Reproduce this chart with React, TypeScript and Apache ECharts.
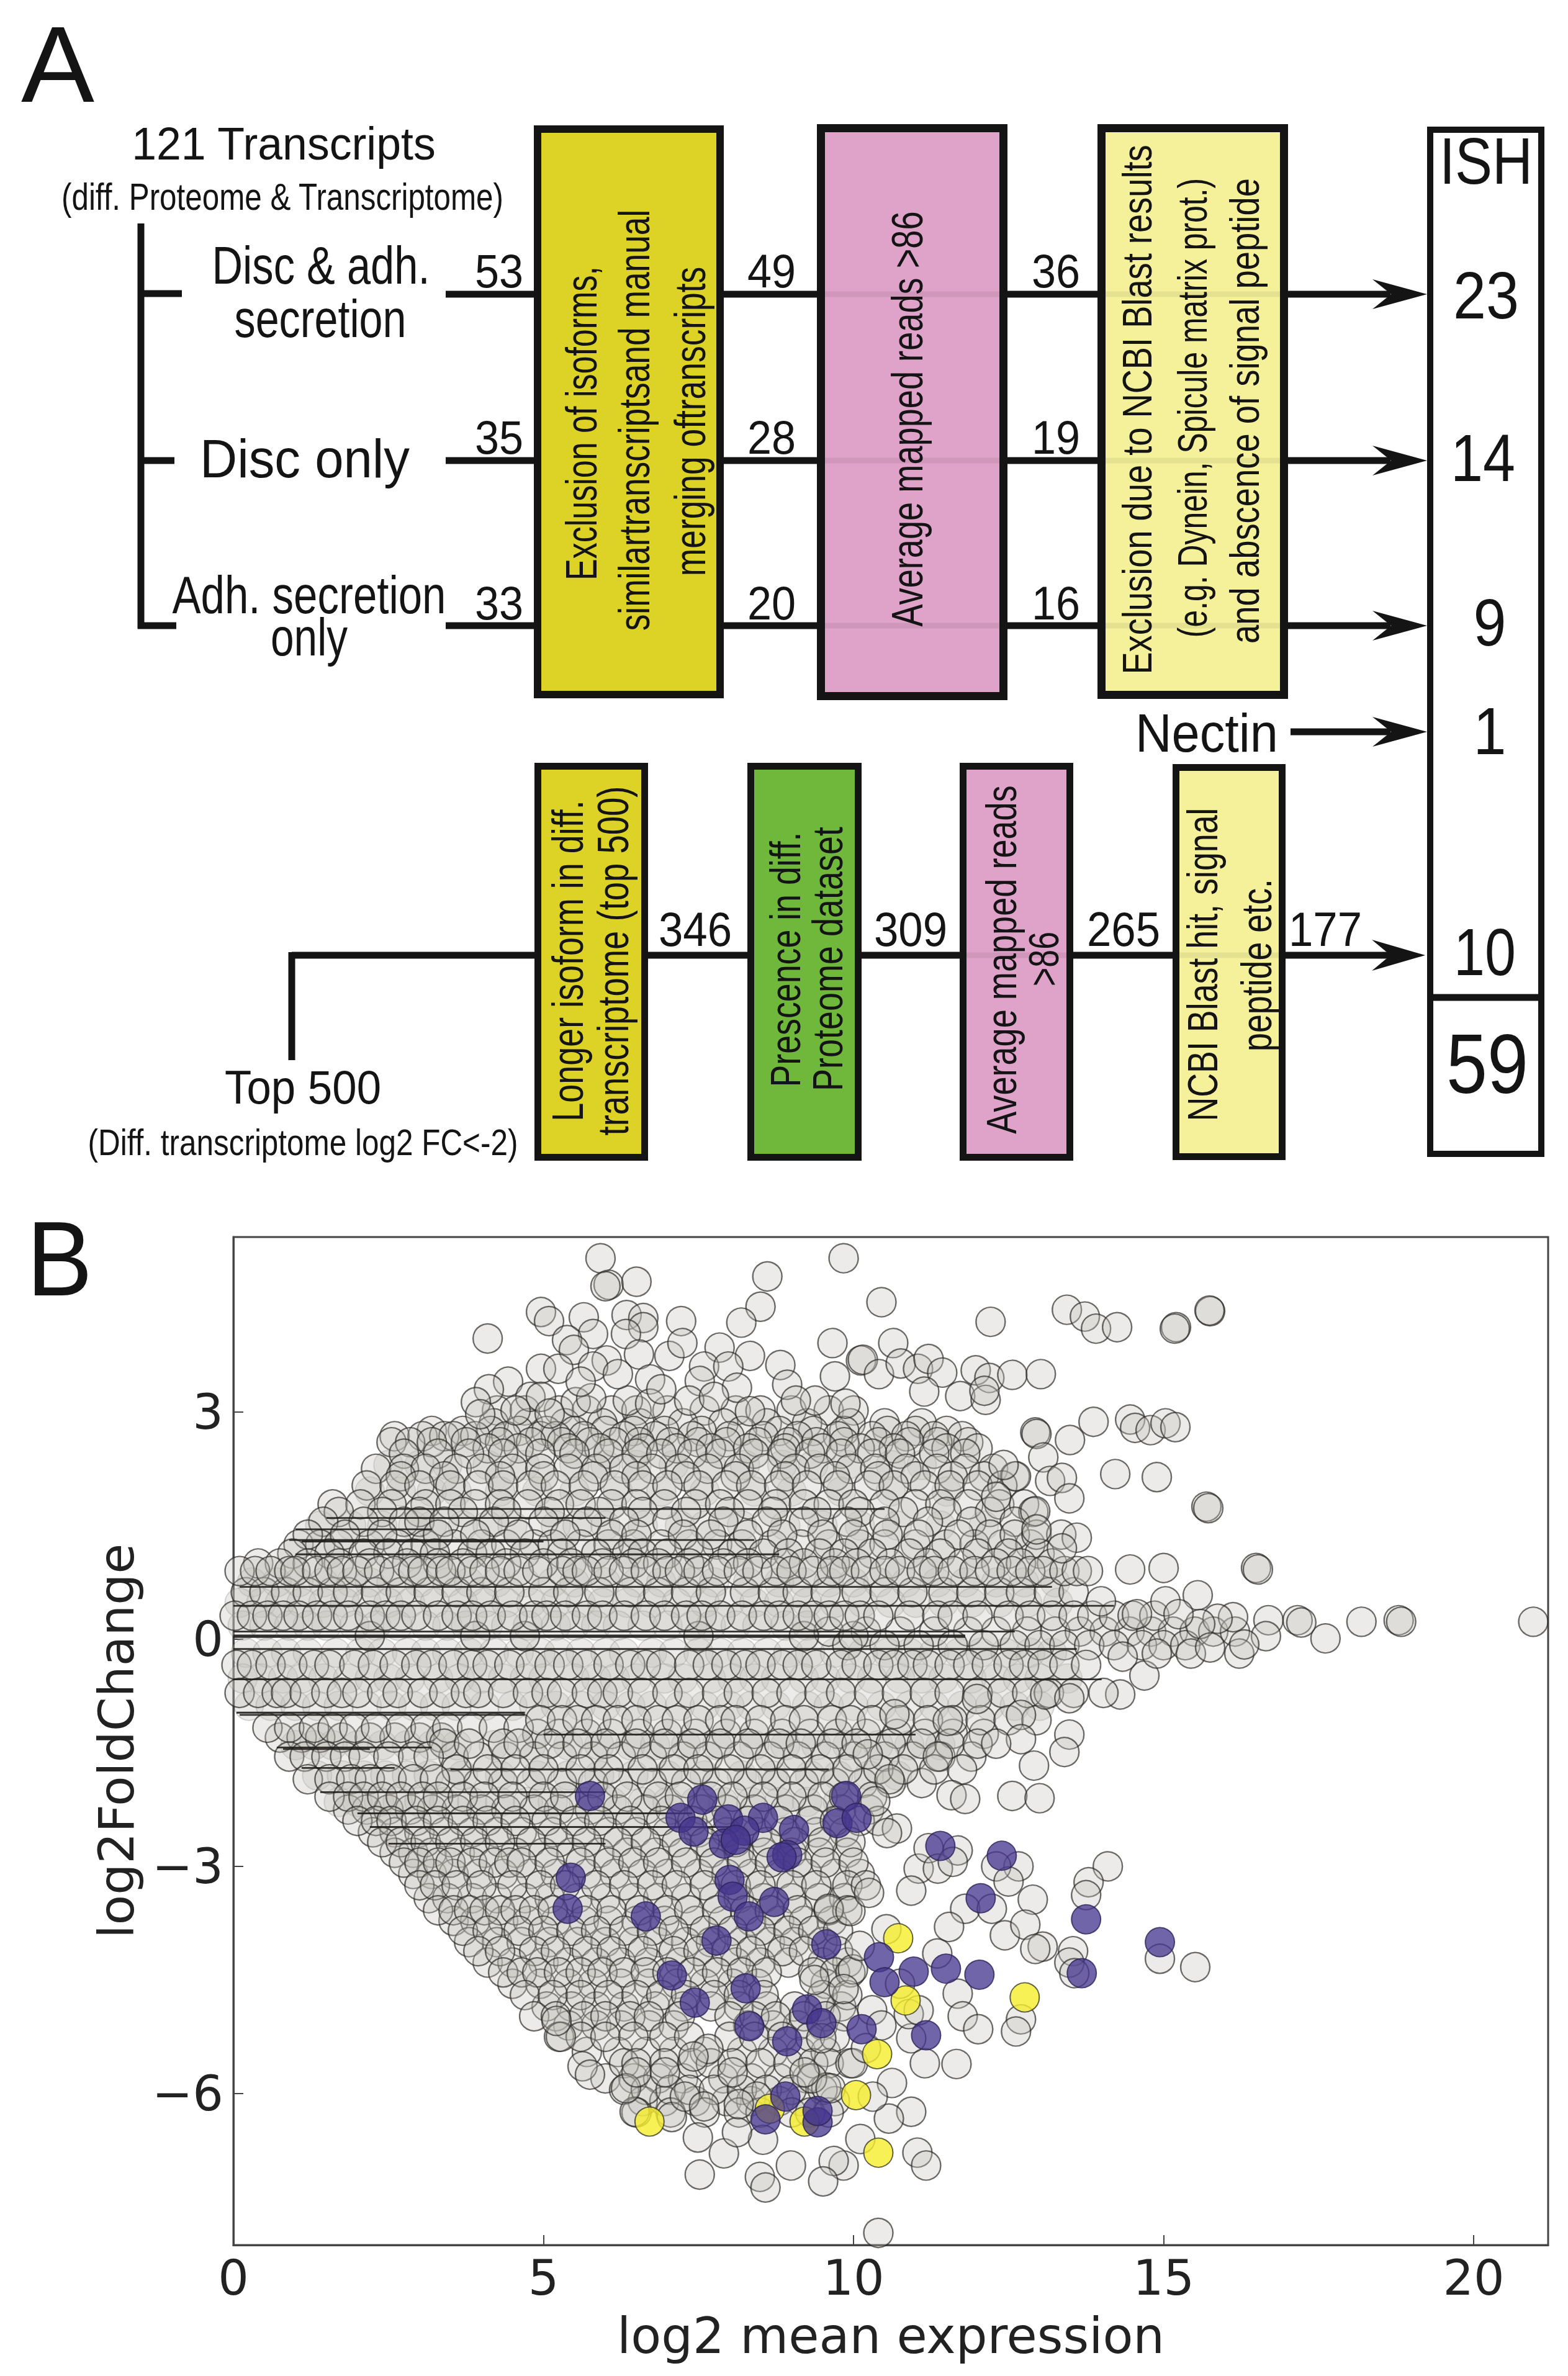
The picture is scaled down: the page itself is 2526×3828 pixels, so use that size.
import React, { useEffect, useRef } from "react";
import * as echarts from "echarts";

// ---------- panel B data (log2 mean expression, log2 fold change) ----------
const xTicks = [0, 5, 10, 15, 20];
const yTicks = [-6, -3, 0, 3];

// Transcripts buried under the visible rows, seen only as faint arcs: [fold change, mean expressions]
const grayBuriedRows: [number, number[]][] = [
  [2.3, [2.5, 3.0, 3.45, 4.1, 4.7, 5.5, 6.0, 6.5, 7.1, 7.7, 8.25, 8.85, 9.35, 9.9, 10.6, 11.1]],
  [1.95, [2.2, 2.7, 3.2, 3.6, 4.3, 4.9, 5.5, 6.2, 6.9, 7.6, 8.4, 9.0, 9.8, 10.6, 11.5]],
  [1.5, [1.4, 1.9, 2.4, 2.9, 3.2, 3.7, 4.1, 4.5, 5.2, 5.55, 6.0, 6.6, 7.2, 7.6, 8.2, 8.9, 9.5, 10.1, 10.7, 11.4, 12.1]],
  [0.75, [0.3, 0.7, 1.05, 1.45, 1.9, 2.2, 2.55, 3.0, 3.45, 3.8, 4.25, 4.7, 5.15, 5.5, 6.0, 6.5, 6.9, 7.4, 7.75, 8.3, 8.8, 9.2, 9.6, 10.0, 10.4, 10.85, 11.35, 11.8, 12.3, 12.75, 13.25]],
  [0.48, [0.1, 0.45, 0.75, 1.1, 1.45, 1.8, 2.15, 2.5, 2.85, 3.25, 3.7, 4.05, 4.4, 4.8, 5.2, 5.6, 5.95, 6.35, 6.75, 7.15, 7.6, 8.0, 8.4, 8.8, 9.25, 9.7, 10.15, 10.6, 11.0, 11.45, 11.9, 12.35, 12.8, 13.3]],
  [0.18, [0.15, 0.5, 0.9, 1.2, 1.5, 1.95, 2.3, 2.65, 3.1, 3.45, 3.75, 4.1, 4.4, 4.75, 5.2, 5.5, 5.85, 6.2, 6.6, 7.0, 7.4, 7.7, 8.1, 8.45, 8.9, 9.25]],
  [-0.18, [0.2, 0.55, 0.85, 1.2, 1.65, 2.05, 2.4, 2.8, 3.1, 3.45, 3.8, 4.2, 4.6, 4.95, 5.25, 5.6, 6.0, 6.3, 6.75, 7.1, 7.5, 7.85, 8.2, 8.6, 8.95, 9.3, 9.7, 10.15, 10.55, 10.9, 11.3, 11.7, 12.05, 12.45, 12.85, 13.2]],
  [-0.52, [0.15, 0.45, 0.8, 1.1, 1.45, 1.85, 2.2, 2.5, 2.85, 3.3, 3.65, 4.0, 4.35, 4.7, 5.0, 5.5, 5.85, 6.15, 6.5, 6.95, 7.25, 7.7, 8.05, 8.4, 8.75, 9.2, 9.55, 9.95, 10.3, 10.75, 11.1, 11.45, 11.9, 12.3, 12.65, 13.0, 13.45]],
  [-0.88, [0.25, 0.6, 1.0, 1.35, 1.7, 2.15, 2.55, 2.9, 3.25, 3.6, 4.05, 4.5, 4.85, 5.2, 5.6, 6.0, 6.4, 6.75, 7.2, 7.6, 8.0, 8.35, 8.75, 9.25, 9.6, 10.0, 10.45, 10.9, 11.3, 11.75, 12.2, 12.6, 13.0]],
  [-1.4, [1.0, 1.3, 1.6, 2.0, 2.4, 2.8, 3.2, 3.6, 4.2, 4.8, 5.4, 5.9, 6.4, 6.8, 7.3, 7.8, 8.4, 8.9, 9.4, 9.9, 10.4, 10.9, 11.4]],
  [-1.8, [1.35, 1.75, 2.1, 2.45, 2.8, 3.15, 3.7, 4.3, 4.9, 5.4, 5.9, 6.45, 7.0, 7.6, 8.2, 8.7, 9.3, 9.75, 10.25, 10.7]],
  [-2.15, [1.7, 2.0, 2.35, 2.65, 3.0, 3.4, 3.85, 4.3, 4.75, 5.15, 5.65, 6.1, 6.6, 7.0, 7.45, 7.9, 8.35, 8.8, 9.25, 9.75]],
];

// Gray transcripts that sit on the discrete fold-change bands: [fold change, mean expressions]
const grayRows: [number, number[]][] = [
  [3.02, [4.25, 4.7, 5.25, 5.7, 6.1, 6.5, 7.0, 7.6, 8.1, 8.5, 9.0, 9.6, 10.0]],
  [2.85, [4.2, 4.75, 5.35, 5.95, 6.55, 7.25, 7.9, 8.6, 9.25, 9.95, 10.5, 11.1]],
  [2.75, [3.2, 3.7, 4.15, 4.6, 5.05, 5.5, 6.0, 6.45, 6.95, 7.55, 8.2, 8.8, 9.35, 9.85, 10.55, 11.0, 11.5]],
  [2.68, [2.6, 3.05, 3.4, 3.55, 3.9, 4.4, 4.95, 5.2, 5.65, 6.3, 6.8, 7.4, 8.0, 8.55, 9.1, 9.75, 10.3, 10.85, 11.3, 11.75]],
  [2.6, [2.55, 2.85, 3.2, 3.75, 4.3, 4.8, 5.3, 5.75, 6.15, 6.55, 7.05, 7.5, 7.95, 8.45, 8.95, 9.4, 9.85, 10.4, 10.9, 11.35, 11.85]],
  [2.52, [4.1, 4.6, 5.4, 5.9, 6.6, 7.15, 7.7, 8.3, 8.9, 9.5, 10.1, 10.65, 11.5, 12.0]],
  [2.45, [2.75, 3.3, 3.8, 4.35, 4.95, 5.5, 6.05, 6.5, 6.9, 7.4, 7.85, 8.4, 8.85, 9.3, 9.8, 10.3, 10.75, 11.3, 11.8]],
  [2.25, [2.3, 2.75, 3.1, 3.6, 4.0, 4.5, 4.95, 5.4, 5.85, 6.3, 6.75, 7.2, 7.65, 8.15, 8.55, 9.05, 9.45, 9.95, 10.35, 10.85, 11.35, 11.8, 12.25]],
  [2.15, [2.7, 3.4, 4.3, 5.0, 5.8, 6.5, 7.3, 8.1, 8.9, 9.7, 10.4, 11.0, 11.6, 12.1, 12.6]],
  [2.03, [2.15, 2.6, 3.0, 3.5, 3.95, 4.35, 4.8, 5.2, 5.65, 6.15, 6.6, 7.0, 7.5, 7.95, 8.35, 8.8, 9.25, 9.75, 10.25, 10.65, 11.15, 11.55, 12.0, 12.4]],
  [1.78, [1.6, 2.05, 2.55, 3.1, 3.5, 3.9, 4.3, 4.75, 5.25, 5.6, 6.1, 6.5, 6.95, 7.45, 7.85, 8.3, 8.75, 9.2, 9.6, 10.0, 10.5, 11.0, 11.4, 11.85, 12.35, 12.75]],
  [1.68, [1.7, 2.4, 3.0, 3.7, 4.4, 5.1, 5.9, 6.6, 7.3, 8.0, 8.7, 9.4, 10.1, 10.8, 11.5, 12.2, 12.9]],
  [1.55, [1.45, 2.1, 2.75, 3.0, 3.4, 4.2, 5.0, 5.7, 6.3, 7.0, 7.9, 8.6, 9.2, 9.9, 10.5, 11.2, 11.9, 12.6]],
  [1.25, [1.05, 1.4, 1.7, 2.2, 2.65, 3.1, 3.55, 4.0, 4.4, 4.85, 5.15, 5.6, 6.05, 6.45, 6.9, 7.35, 7.8, 8.2, 8.7, 9.15, 9.6, 10.1, 10.5, 11.0, 11.5, 11.95, 12.4, 12.85]],
  [1.38, [1.2, 1.8, 2.4, 3.3, 3.9, 4.6, 5.35, 6.1, 6.5, 7.25, 7.7, 8.3, 8.85, 9.5, 10.0, 10.55, 11.05, 11.7, 12.2, 12.6, 12.95, 13.35]],
  [1.13, [0.95, 1.55, 2.1, 2.5, 2.9, 3.25, 3.85, 4.15, 4.7, 5.3, 5.85, 6.35, 6.6, 7.0, 7.5, 8.05, 8.55, 8.95, 9.45, 9.85, 10.3, 10.9, 11.4, 12.0, 12.5, 13.0]],
  [1.0, [0.4, 0.75, 1.2, 1.7, 2.2, 2.8, 3.3, 3.7, 4.4, 5.0, 5.45, 5.95, 6.45, 6.85, 7.35, 7.9, 8.3, 8.9, 9.2, 9.7, 10.05, 10.6, 11.2, 11.75, 12.3, 12.7, 13.2]],
  [0.62, [0.2, 0.5, 0.85, 1.2, 1.6, 1.85, 2.3, 2.7, 3.15, 3.6, 4.0, 4.45, 5.0, 5.4, 5.9, 6.4, 6.85, 7.3, 7.7, 8.25, 8.7, 9.1, 9.55, 10.05, 10.5, 10.95, 11.45, 11.9, 12.35, 12.7, 13.15, 13.55]],
  [0.9, [0.1, 0.35, 0.6, 0.9, 1.0, 1.35, 1.55, 1.75, 2.0, 2.35, 2.6, 2.9, 3.05, 3.35, 3.5, 3.85, 4.05, 4.3, 4.6, 4.9, 5.3, 5.55, 5.7, 6.05, 6.3, 6.65, 7.0, 7.2, 7.5, 7.8, 8.15, 8.45, 8.75, 9.0, 9.35, 9.65, 9.85, 10.2, 10.5, 10.75, 11.1, 11.3, 11.6, 11.95, 12.2, 12.55, 12.85, 13.05, 13.4, 13.6]],
  [0.1, [9.6, 10.2, 10.75, 11.3, 11.85, 12.3, 12.8, 13.25, 13.65, 14.05, 14.45, 14.8, 15.15, 15.5, 15.8, 16.15]],
  [-0.08, [9.9, 10.5, 11.05, 11.6, 12.1, 12.6, 13.0, 13.4, 13.8, 14.2, 14.65, 15.0, 15.35]],
  [0.04, [2.2, 3.9, 4.7, 7.5, 9.2, 10.0]],
  [0.31, [0.02, 0.3, 0.55, 0.8, 1.05, 1.35, 1.6, 1.85, 2.2, 2.45, 2.7, 2.95, 3.3, 3.6, 3.85, 4.15, 4.5, 4.85, 5.05, 5.35, 5.7, 5.95, 6.3, 6.65, 6.95, 7.3, 7.55, 7.85, 8.2, 8.55, 8.8, 9.1, 9.35, 9.6, 9.85, 10.1, 10.4, 10.9, 11.35, 11.6, 12.0, 12.5, 12.85, 13.2, 13.55, 13.85, 14.2, 14.5, 14.85]],
  [-0.34, [0.05, 0.3, 0.6, 0.95, 1.3, 1.55, 1.95, 2.25, 2.6, 2.95, 3.2, 3.55, 3.85, 4.1, 4.45, 4.8, 5.1, 5.4, 5.7, 6.05, 6.4, 6.65, 6.9, 7.35, 7.65, 7.95, 8.25, 8.5, 8.85, 9.1, 9.4, 9.8, 10.05, 10.4, 10.65, 10.95, 11.2, 11.55, 11.85, 12.15, 12.5, 12.75, 13.05, 13.4, 13.75]],
  [-0.71, [0.1, 0.4, 0.7, 0.85, 1.15, 1.5, 1.75, 2.0, 2.4, 2.65, 3.05, 3.4, 3.75, 3.95, 4.35, 4.75, 5.05, 5.3, 5.7, 5.95, 6.2, 6.6, 7.0, 7.35, 7.8, 8.15, 8.6, 9.0, 9.45, 9.8, 10.25, 10.7, 11.15, 11.55, 12.0, 12.4, 12.8, 13.15, 13.55]],
  [-1.3, [0.75, 1.1, 1.4, 1.75, 2.2, 2.6, 3.0, 3.35]],
  [-1.25, [4.9, 5.25, 5.7, 6.1, 6.55, 7.0, 7.45, 7.95, 8.4, 8.85, 9.3, 9.75, 10.2, 10.7, 11.15, 11.6, 12.1]],
  [-1.17, [0.55, 0.9, 1.3, 1.6, 1.95, 2.3, 2.7, 3.1, 3.45, 3.85, 4.2, 4.6]],
  [-1.07, [4.95, 5.3, 5.55, 5.85, 6.2, 6.5, 6.85, 7.15, 7.5, 7.85, 8.1, 8.5, 8.9, 9.2, 9.65, 9.95, 10.3, 10.75, 11.2, 11.6, 12.05, 12.5, 12.95]],
  [-1.55, [3.55, 3.95, 4.4, 4.85, 5.3, 5.8, 6.25, 6.75, 7.25, 7.65, 8.15, 8.65, 9.1, 9.55, 10.0, 10.5, 10.95, 11.4, 11.9]],
  [-1.38, [3.4, 3.8, 4.35, 4.6, 5.1, 5.55, 6.0, 6.5, 6.95, 7.4, 7.85, 8.3, 8.8, 9.15, 9.65, 10.05, 10.6, 11.1, 11.55, 12.0]],
  [-1.55, [0.9, 1.15, 1.5, 1.8, 2.1, 2.5, 2.9, 3.15]],
  [-1.9, [3.5, 3.95, 4.35, 4.8, 5.3, 5.8, 6.2, 6.75, 7.3, 7.8, 8.3, 8.75, 9.2, 9.7, 10.15, 10.6, 11.1]],
  [-1.72, [3.6, 4.1, 4.55, 5.0, 5.6, 6.05, 6.6, 7.1, 7.5, 8.0, 8.5, 9.0, 9.45, 9.9, 10.4, 10.8, 11.3, 11.75]],
  [-1.85, [1.2, 1.55, 1.9, 2.2, 2.55, 2.9, 3.25]],
  [-2.25, [1.85, 2.15, 2.5, 2.85, 3.2, 3.6, 4.0, 4.4, 4.85, 5.25, 5.75, 6.2, 6.65, 7.05, 7.55, 7.95, 8.4, 8.9, 9.35, 9.8, 10.25]],
  [-2.08, [1.55, 1.85, 2.1, 2.4, 2.7, 3.05, 3.3, 3.7, 4.05, 4.5, 5.0, 5.35, 5.95, 6.35, 6.85, 7.2, 7.7, 8.05, 8.55, 9.0, 9.5, 9.85, 10.3]],
  [-2.55, [2.25, 2.6, 3.0, 3.4, 3.85, 4.25, 4.65, 5.15, 5.6, 6.05, 6.5, 7.0, 7.5, 7.95, 8.45, 8.9, 9.4, 9.85]],
  [-2.4, [2.0, 2.3, 2.55, 2.95, 3.3, 3.7, 4.1, 4.55, 5.05, 5.5, 5.9, 6.4, 6.9, 7.4, 7.8, 8.3, 8.8, 9.3, 9.7, 10.1, 10.4]],
  [-2.82, [2.6, 2.9, 3.2, 3.65, 4.05, 4.55, 5.0, 5.45, 5.9, 6.35, 6.8, 7.25, 7.7, 8.15, 8.55, 9.0, 9.45, 9.9]],
  [-2.68, [2.4, 2.7, 3.1, 3.5, 3.9, 4.3, 4.8, 5.25, 5.7, 6.2, 6.65, 7.15, 7.6, 8.1, 8.6, 9.05, 9.5, 9.95]],
  [-3.1, [2.9, 3.2, 3.55, 3.95, 4.35, 4.8, 5.2, 5.7, 6.15, 6.6, 7.0, 7.5, 7.95, 8.35, 8.8, 9.25, 9.7, 10.1]],
  [-2.95, [2.75, 3.0, 3.3, 3.5, 3.85, 4.2, 4.45, 4.65, 5.1, 5.6, 6.05, 6.45, 6.85, 7.3, 7.75, 8.2, 8.65, 9.1, 9.55, 10.0]],
  [-3.42, [3.15, 3.45, 3.85, 4.25, 4.7, 5.1, 5.55, 6.0, 6.45, 6.85, 7.3, 7.75, 8.15, 8.55, 9.0, 9.45, 9.85]],
  [-3.25, [3.0, 3.25, 3.6, 4.0, 4.5, 4.95, 5.35, 5.85, 6.3, 6.75, 7.15, 7.6, 8.1, 8.5, 9.0, 9.4, 9.9, 10.2]],
  [-3.72, [3.55, 3.9, 4.35, 4.75, 5.2, 5.65, 6.05, 6.5, 6.95, 7.45, 7.9, 8.35, 8.8, 9.2, 9.65]],
  [-3.58, [3.3, 3.55, 3.8, 4.05, 4.3, 4.55, 4.85, 5.15, 5.7, 6.1, 6.55, 7.0, 7.35, 7.8, 8.25, 8.65, 9.1, 9.6, 9.9]],
  [-4.0, [3.8, 4.25, 4.65, 5.1, 5.55, 6.0, 6.45, 6.85, 7.3, 7.7, 8.2, 8.65, 9.05, 9.5]],
  [-3.85, [3.7, 4.1, 4.6, 5.0, 5.45, 5.85, 6.3, 6.75, 7.1, 7.6, 8.05, 8.5, 8.95, 9.35, 9.75]],
  [-4.27, [4.1, 4.5, 5.0, 5.4, 5.85, 6.25, 6.7, 7.2, 7.65, 8.1, 8.5, 8.95, 9.5, 9.9]],
  [-4.12, [3.95, 4.3, 4.85, 5.2, 5.7, 6.1, 6.6, 7.1, 7.5, 7.95, 8.35, 8.85, 9.2, 9.75]],
  [-4.55, [4.5, 4.95, 5.4, 5.8, 6.25, 6.7, 7.15, 7.6, 8.05, 8.45, 9.55]],
  [-4.4, [4.35, 4.65, 4.9, 5.25, 5.6, 5.95, 6.3, 6.65, 7.0, 7.4, 7.8, 8.2, 8.6, 9.35, 9.7, 9.95]],
  [-4.85, [5.05, 5.45, 5.85, 6.3, 6.8, 7.25, 7.7, 8.15, 8.6, 9.05, 9.45, 9.8]],
  [-4.7, [4.7, 5.15, 5.6, 6.05, 6.5, 6.9, 7.3, 7.75, 8.15, 8.55, 9.5, 9.9]],
  [-5.1, [5.4, 5.85, 6.25, 6.7, 7.1, 8.3, 8.7, 9.1, 9.5]],
  [-4.98, [4.85, 5.2, 5.65, 6.0, 6.4, 6.7, 7.2, 8.0, 8.4, 8.75, 9.2, 9.55, 9.85]],
  [-5.45, [5.7, 6.2, 6.65, 7.1, 7.6, 8.2, 8.7, 9.15, 9.55]],
  [-5.25, [5.25, 5.6, 6.0, 6.45, 6.95, 7.35, 8.0, 8.4, 8.85, 9.3, 9.7]],
  [-5.8, [6.0, 6.45, 6.85, 7.25, 7.9, 8.35, 8.8, 9.25]],
  [-5.6, [6.3, 6.5, 6.95, 7.4, 7.7, 8.05, 8.5, 8.95, 9.35, 9.6, 9.95]],
  [-6.1, [6.6, 6.95, 7.45, 7.95, 8.35, 8.8, 9.15, 9.7]],
  [-5.95, [6.3, 6.65, 7.05, 7.35, 7.75, 8.2, 8.6, 9.0, 9.5]],
  [-6.25, [6.5, 7.05, 7.6, 8.15, 8.5, 9.0, 9.3, 9.6]],
];

// Gray transcripts above the bands
const grayUpper: [number, number][] = [
  [5.92, 5.03], [6.05, 4.68], [6.0, 4.66], [6.5, 4.72], [8.61, 4.79], [9.84, 5.03], [4.96, 4.32], [5.09, 4.2], [5.65, 4.25], [4.1, 3.97],
  [6.34, 4.28], [6.61, 4.24], [6.61, 4.12], [6.33, 4.03], [5.8, 4.03], [7.22, 4.2], [8.5, 4.39], [8.19, 4.18], [5.38, 3.95], [5.49, 3.82],
  [6.02, 3.68], [7.03, 3.74], [7.84, 3.85], [7.24, 3.91], [8.33, 3.74], [9.66, 3.91], [6.54, 3.76], [7.59, 3.6], [7.98, 3.6], [8.82, 3.62],
  [9.7, 3.47], [10.12, 3.68], [4.96, 3.57], [5.24, 3.57], [5.8, 3.6], [4.43, 3.4], [6.72, 3.43], [7.52, 3.41], [8.12, 3.32], [8.93, 3.36],
  [4.12, 3.3], [3.91, 3.13], [4.79, 3.2], [4.96, 3.2], [5.52, 3.13], [5.77, 3.18], [6.36, 3.15], [6.72, 3.11], [7.35, 3.15], [8.33, 3.01],
  [9.38, 3.15], [9.87, 3.11], [9.07, 3.15], [3.98, 2.97], [4.55, 3.02], [5.1, 2.98], [5.6, 3.4], [6.2, 3.5], [6.9, 3.3], [7.75, 3.2],
];

// Gray transcripts on the right-hand edge of the cloud
const grayRight: [number, number][] = [
  [10.45, 4.45], [12.21, 4.19], [13.44, 4.35], [13.73, 4.26], [13.91, 4.1], [14.25, 4.12], [15.2, 4.12], [15.18, 4.1], [15.75, 4.33], [15.74, 4.34],
  [10.64, 3.91], [10.15, 3.69], [10.41, 3.5], [10.76, 3.64], [11.04, 3.57], [11.21, 3.7], [11.43, 3.52], [11.97, 3.55], [12.19, 3.45], [12.56, 3.49],
  [13.02, 3.5], [11.14, 3.27], [11.72, 3.21], [12.13, 3.16], [12.11, 3.28], [13.87, 2.87], [13.49, 2.63], [12.93, 2.73], [12.95, 2.71], [14.46, 2.9],
  [14.54, 2.79], [14.79, 2.76], [15.03, 2.85], [15.19, 2.8], [14.22, 2.18], [14.89, 2.14], [15.69, 1.75], [15.72, 1.73], [13.06, 2.4], [12.62, 2.15],
  [12.42, 2.3], [13.17, 2.09], [13.36, 2.13], [13.48, 1.86], [12.3, 1.88], [12.93, 1.69], [12.95, 1.45], [13.6, 1.34], [13.36, 1.2], [14.46, 0.92],
  [15.0, 0.94], [16.49, 0.94], [16.52, 0.92], [15.55, 0.58], [15.03, 0.5], [18.79, 0.25], [18.83, 0.23], [18.19, 0.23], [20.96, 0.23], [17.61, 0.01],
  [17.16, 0.25], [17.22, 0.22], [16.69, 0.25], [16.12, 0.29], [15.87, 0.27], [15.59, 0.2], [15.24, 0.33], [14.57, 0.33], [13.99, 0.5], [13.78, 0.9],
  [14.69, -0.48], [14.3, -0.73], [14.03, -0.71], [15.44, -0.19], [16.22, -0.19], [16.65, 0.04], [15.75, -0.11], [16.3, -0.07], [14.89, -0.19], [14.34, -0.23],
];

// Gray transcripts scattered below the bands
const grayLower: [number, number][] = [
  [13.48, -1.26], [13.09, -0.73], [13.48, -0.78], [12.7, -1.0], [13.4, -1.49], [12.91, -1.67], [12.56, -2.07], [13.0, -2.1], [11.58, -2.06], [11.8, -2.11],
  [12.7, -1.32], [12.3, -1.38], [11.36, -1.55], [11.52, -1.08], [11.99, -0.79], [10.66, -0.99], [10.23, -1.52], [10.58, -1.85], [10.35, -2.14], [10.7, -2.5],
  [10.54, -2.56], [11.05, -3.03], [10.93, -3.32], [11.68, -2.79], [11.21, -2.76], [11.36, -3.03], [11.6, -2.94], [12.66, -3.0], [12.3, -3.0], [12.5, -3.2],
  [12.89, -3.44], [11.8, -3.56], [12.23, -3.56], [11.54, -3.8], [12.44, -3.91], [12.77, -3.77], [13.05, -4.06], [12.93, -4.09], [13.54, -4.12], [13.48, -4.27],
  [13.56, -4.41], [14.1, -3.0], [13.79, -3.21], [13.75, -3.38], [14.94, -4.22], [15.51, -4.33], [10.53, -3.83], [11.35, -4.15], [11.68, -4.68], [11.76, -4.98],
  [12.01, -5.15], [12.7, -5.02], [12.62, -5.18], [11.66, -5.61], [10.93, -5.27], [10.89, -4.95], [10.62, -5.86], [10.93, -6.24], [10.57, -6.33], [10.31, -6.04],
  [10.11, -6.6], [11.03, -6.78], [11.17, -6.95], [9.84, -6.95], [9.68, -6.89], [9.51, -7.16], [10.4, -7.84], [9.99, -5.6], [9.56, -5.92], [9.6, -3.56],
  [9.95, -3.59], [9.99, -4.36], [9.37, -4.5], [9.84, -4.62], [9.48, -5.27], [9.33, -5.8], [7.52, -7.07], [8.49, -7.1], [8.58, -7.24], [8.99, -6.95],
  [7.91, -6.79], [7.49, -6.58], [8.54, -6.61], [8.12, -6.51], [7.07, -6.31], [6.47, -6.24], [6.33, -5.93], [6.5, -5.72], [5.63, -5.64], [5.75, -5.75],
  [6.96, -5.72], [7.28, -6.04], [7.59, -6.17], [8.05, -5.72], [7.66, -5.41], [7.42, -5.51], [8.44, -6.04], [8.15, -6.14], [9.21, -5.72], [9.63, -5.93],
  [5.28, -5.25], [5.21, -5.04], [10.3, -4.9], [10.2, -5.4], [10.45, -5.1], [10.1, -4.05], [10.25, -3.35], [10.75, -4.55], [11.05, -4.9], [11.15, -5.6],
];

// Fold-change bands where so many circles touch that their edges merge: [fold change, from, to]
const bandEdges: [number, number, number][] = [
  [1.72, 2.2, 10.5], [1.6, 1.5, 6.0], [1.45, 1.0, 3.2], [1.31, 0.9, 8.4], [1.29, 1.1, 5.0], [1.12, 1.0, 8.8], [0.69, 0.1, 13.2], [0.44, 0, 14.2],
  [0.1, 0, 12.6], [0.05, 0, 11.8], [0.03, 0, 11.8], [-0.13, 0, 13.6], [-0.53, 0, 14.0],
  [-0.97, 0.05, 4.7], [-1.0, 0.1, 4.7], [-1.26, 5.0, 11.0], [-1.43, 0.7, 3.2], [-1.45, 0.8, 2.2],
  [-1.72, 3.5, 9.6], [-1.7, 1.1, 2.6], [-2.02, 1.4, 6.0], [-2.3, 2.0, 7.4], [-2.48, 2.2, 8.0], [-2.7, 2.5, 6.0],
];

const bluePoints: [number, number][] = [
  [5.75, -2.07], [7.56, -2.12], [7.21, -2.36], [7.42, -2.54], [7.98, -2.38], [8.54, -2.36], [8.24, -2.53], [7.91, -2.7], [8.1, -2.65], [9.04, -2.52],
  [9.88, -2.07], [9.74, -2.43], [10.05, -2.36], [8.93, -2.85], [8.84, -2.88], [5.44, -3.15], [5.39, -3.56], [6.65, -3.66], [8.0, -3.18], [8.05, -3.4],
  [8.72, -3.47], [8.31, -3.66], [7.79, -3.98], [9.56, -4.03], [7.07, -4.44], [8.26, -4.61], [7.44, -4.8], [9.25, -4.89], [9.48, -5.07], [8.32, -5.11],
  [8.93, -5.31], [8.9, -6.04], [8.58, -6.34], [9.42, -6.38], [9.42, -6.23], [11.4, -2.73], [12.39, -2.86], [12.05, -3.42], [13.75, -3.7], [14.94, -4.0],
  [13.68, -4.41], [12.03, -4.43], [11.49, -4.35], [10.97, -4.39], [10.41, -4.2], [10.5, -4.53], [11.17, -5.23], [10.13, -5.15],
];

const yellowPoints: [number, number][] = [
  [10.72, -3.95], [10.84, -4.77], [12.76, -4.73], [10.38, -5.48], [10.04, -6.02], [10.4, -6.78], [6.71, -6.37], [9.21, -6.37], [8.65, -6.2],
];

// ---------- panel A data ----------
const discAdhCounts = ["53", "49", "36", "23"];
const discOnlyCounts = ["35", "28", "19", "14"];
const adhOnlyCounts = ["33", "20", "16", "9"];
const top500Counts = ["346", "309", "265", "177", "10"];
const nectinCount = "1";
const totalCount = "59";

const FONT = '"Liberation Sans"';
const INK = "#141414";
const OLIVE = "#dcd326";
const PINK = "#dfa2c9";
const PALE = "#f5f19b";
const GREEN = "#70b83c";

const measureCtx = document.createElement("canvas").getContext("2d") as CanvasRenderingContext2D;

// A label fitted to the length it has in the picture (the original type is condensed).
function label(text: string, cx: number, cy: number, size: number, length: number, vertical = false) {
  measureCtx.font = `${size}px ${FONT}`;
  const w = measureCtx.measureText(text).width;
  return {
    type: "text",
    x: cx,
    y: cy,
    rotation: vertical ? Math.PI / 2 : 0,
    scaleX: length / w,
    style: {
      text,
      font: `${size}px ${FONT}`,
      fill: INK,
      textAlign: "center",
      textVerticalAlign: "middle",
      align: "center",
      verticalAlign: "middle",
    },
  };
}

function bar(x1: number, y1: number, x2: number, y2: number, lw = 11, opacity = 1) {
  return {
    type: "line",
    shape: { x1, y1, x2, y2 },
    style: { stroke: INK, lineWidth: lw, opacity, lineCap: "butt" },
  };
}

function box(x0: number, y0: number, x1: number, y1: number, fill: string, bw: number) {
  return {
    type: "rect",
    shape: { x: x0 + bw / 2, y: y0 + bw / 2, width: x1 - x0 - bw, height: y1 - y0 - bw },
    style: { fill, stroke: INK, lineWidth: bw },
  };
}

function arrowHead(tip: number, y: number, len = 88, notch = 58, half = 24) {
  return {
    type: "polygon",
    shape: { points: [[tip, y], [tip - len, y - half], [tip - notch, y], [tip - len, y + half]] },
    style: { fill: INK },
  };
}

function panelA(): any[] {
  const ROW = [474, 742, 1008];
  const LOW = 1539;
  const els: any[] = [];
  // rows behind the boxes
  ROW.forEach((y) => {
    els.push(bar(718, y, 2240, y));
    els.push(arrowHead(2299, y));
  });
  els.push(bar(2079, 1179, 2240, 1179), arrowHead(2299, 1179));
  els.push(bar(470, LOW, 2240, LOW), arrowHead(2296, LOW, 86, 56, 25));
  els.push(bar(470, LOW - 5, 470, 1708), bar(227, 360, 227, 1013));
  els.push(bar(222, 473, 293, 473), bar(222, 742, 281, 742), bar(222, 1008, 284, 1008));
  // boxes
  els.push(box(860, 202, 1166, 1125, OLIVE, 12));
  els.push(box(1316, 200, 1623, 1128, PINK, 13));
  els.push(box(1768, 200, 2075, 1126, PALE, 13));
  els.push(box(861, 1229, 1044, 1870, OLIVE, 11));
  els.push(box(1204, 1229, 1388, 1870, GREEN, 11));
  els.push(box(1546, 1229, 1729, 1870, PINK, 11));
  els.push(box(1889, 1231, 2071, 1869, PALE, 11));
  els.push(box(2299, 204, 2488, 1864, "#ffffff", 10));
  els.push(bar(2304, 1607, 2483, 1607));
  // faint trace of the lines through the boxes
  ROW.forEach((y) => {
    els.push(bar(1329, y, 1610, y, 9, 0.07), bar(1781, y, 2062, y, 9, 0.07));
  });
  els.push(bar(1557, LOW, 1718, LOW, 9, 0.07), bar(1900, LOW, 2060, LOW, 9, 0.07));

  // panel letters
  els.push(label("A", 93, 103, 175, 118));
  els.push(label("B", 96, 2028, 170, 106));

  // left column
  els.push(
    label("121 Transcripts", 457, 231, 74, 491),
    label("(diff. Proteome & Transcriptome)", 455, 316, 62, 713),
    label("Disc & adh.", 517, 427, 86, 351),
    label("secretion", 516, 513, 86, 277),
    label("Disc only", 491, 738, 88, 338),
    label("Adh. secretion", 498, 958, 86, 441),
    label("only", 498, 1026, 86, 124),
    label("Top 500", 488, 1752, 76, 252),
    label("(Diff. transcriptome log2 FC<-2)", 488, 1840, 60, 693),
    label("Nectin", 1944, 1180, 88, 230)
  );

  // counts along the upper rows
  const colX = [804, 1243, 1701];
  const rowY = [437, 705, 972];
  [discAdhCounts, discOnlyCounts, adhOnlyCounts].forEach((row, r) => {
    row.slice(0, 3).forEach((c, i) => els.push(label(c, colX[i], rowY[r], 76, 78)));
  });
  els.push(label(discAdhCounts[3], 2394, 476, 108, 106));
  els.push(label(discOnlyCounts[3], 2389, 738, 108, 104));
  els.push(label(adhOnlyCounts[3], 2400, 1003, 108, 53));
  els.push(label(nectinCount, 2400, 1178, 108, 53));
  els.push(label("ISH", 2394, 259, 106, 150));
  els.push(label(totalCount, 2396, 1714, 136, 132));

  // counts along the lower row
  const lowX = [1120, 1467, 1810, 2135];
  top500Counts.slice(0, 4).forEach((c, i) => els.push(label(c, lowX[i], 1497, 78, 118)));
  els.push(label(top500Counts[4], 2392, 1533, 108, 100));

  // box captions
  els.push(
    label("Exclusion of isoforms,", 937, 682, 70, 506, true),
    label("similartranscriptsand manual", 1022, 677, 70, 679, true),
    label("merging oftranscripts", 1112, 679, 70, 499, true),
    label("Average mapped reads >86", 1461, 675, 70, 669, true),
    label("Exclusion due to NCBI Blast results", 1832, 660, 66, 853, true),
    label("(e.g. Dynein, Spicule matrix prot.)", 1921, 657, 66, 740, true),
    label("and abscence of signal peptide", 2005, 662, 66, 750, true),
    label("Longer isoform in diff.", 914, 1548, 70, 517, true),
    label("transcriptome (top 500)", 987, 1548, 70, 563, true),
    label("Prescence in diff.", 1266, 1546, 68, 411, true),
    label("Proteome dataset", 1333, 1545, 68, 426, true),
    label("Average mapped reads", 1613, 1546, 68, 562, true),
    label(">86", 1681, 1545, 68, 88, true),
    label("NCBI Blast hit, signal", 1938, 1554, 68, 505, true),
    label("peptide etc.", 2025, 1555, 68, 278, true)
  );
  return els;
}

function buildOption(): any {
  const expand = (rows: [number, number[]][]) =>
    rows.flatMap(([y, xs]) => xs.map((x) => [x, y] as [number, number]));
  const gray: [number, number][] = [...expand(grayRows), ...grayUpper, ...grayRight, ...grayLower];
  const edgeSeries = bandEdges.map(([y, from, to]) => ({
    type: "line",
    data: [[from, y], [to, y]],
    showSymbol: false,
    symbol: "none",
    silent: true,
    z: 3,
    lineStyle: { color: "#1f1d1b", width: 2.8, opacity: 0.9 },
  }));
  const minusLabel = (v: number) => (v < 0 ? "\u2212" + Math.abs(v) : String(v));
  const tickText = { fontFamily: "DejaVu Sans", fontSize: 78, color: "#222222" };
  const titleText = { fontFamily: "DejaVu Sans", fontSize: 80, color: "#222222" };
  return {
    animation: false,
    backgroundColor: "#ffffff",
    tooltip: { show: false },
    grid: {
      left: 376,
      top: 1993,
      width: 2118,
      height: 1624,
      show: true,
      outerBoundsMode: "none",
      borderColor: "#444444",
      borderWidth: 3,
      backgroundColor: "transparent",
    },
    xAxis: {
      type: "value",
      min: 0,
      max: 21.2,
      name: "log2 mean expression",
      nameLocation: "middle",
      nameGap: 106,
      nameTextStyle: titleText,
      axisLine: { show: true, onZero: false, lineStyle: { color: "#444444", width: 3 } },
      axisTick: { show: true, inside: true, length: 16, customValues: xTicks, lineStyle: { color: "#444444", width: 2 } },
      axisLabel: { ...tickText, margin: 14, customValues: xTicks },
      splitLine: { show: false },
    },
    yAxis: {
      type: "value",
      min: -8,
      max: 5.31,
      name: "log2FoldChange",
      nameLocation: "middle",
      nameGap: 149,
      nameRotate: 90,
      nameTextStyle: { ...titleText, fontSize: 79 },
      axisLine: { show: true, onZero: false, lineStyle: { color: "#444444", width: 3 } },
      axisTick: { show: true, inside: true, length: 16, customValues: yTicks, lineStyle: { color: "#444444", width: 2 } },
      axisLabel: { ...tickText, margin: 16, customValues: yTicks, formatter: minusLabel },
      splitLine: { show: false },
    },
    graphic: { elements: panelA() },
    series: [
      {
        type: "scatter",
        name: "Transcripts (buried)",
        data: expand(grayBuriedRows),
        symbolSize: 47,
        z: 1,
        itemStyle: { color: "rgba(196,192,188,0.4)", borderColor: "rgba(40,38,36,0.22)", borderWidth: 2 },
      },
      {
        type: "scatter",
        name: "Transcripts",
        data: gray,
        symbolSize: 47,
        z: 2,
        itemStyle: { color: "rgba(196,192,188,0.4)", borderColor: "rgba(40,38,36,0.85)", borderWidth: 2.4 },
      },
      ...edgeSeries,
      {
        type: "scatter",
        name: "Other",
        data: yellowPoints,
        symbolSize: 47,
        z: 4,
        itemStyle: { color: "#f6ee2c", borderColor: "#3a3a28", borderWidth: 2 },
      },
      {
        type: "scatter",
        name: "ISH",
        data: bluePoints,
        symbolSize: 47,
        z: 5,
        itemStyle: { color: "rgba(68,52,142,0.95)", borderColor: "#2a2356", borderWidth: 2 },
      },
    ],
  };
}

export default function App() {
  const ref = useRef<HTMLDivElement>(null);
  useEffect(() => {
    if (!ref.current) return;
    const chart = echarts.init(ref.current, undefined, { renderer: "svg" });
    chart.setOption(buildOption());
    return () => chart.dispose();
  }, []);
  return (
    <div
      ref={ref}
      style={{ position: "absolute", left: 0, top: 0, width: 2526, height: 3828, background: "#ffffff" }}
    />
  );
}
